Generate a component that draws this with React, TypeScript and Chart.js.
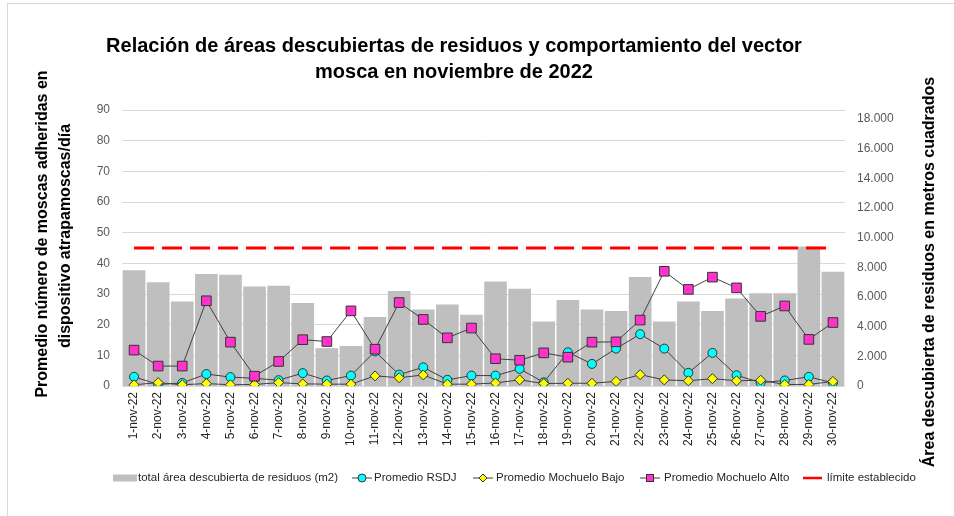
import React, { useEffect, useRef } from 'react';
import { Chart, registerables } from 'chart.js';

Chart.register(...registerables);

const days = [
  '1-nov-22', '2-nov-22', '3-nov-22', '4-nov-22', '5-nov-22', '6-nov-22', '7-nov-22', '8-nov-22', '9-nov-22', '10-nov-22',
  '11-nov-22', '12-nov-22', '13-nov-22', '14-nov-22', '15-nov-22', '16-nov-22', '17-nov-22', '18-nov-22', '19-nov-22', '20-nov-22',
  '21-nov-22', '22-nov-22', '23-nov-22', '24-nov-22', '25-nov-22', '26-nov-22', '27-nov-22', '28-nov-22', '29-nov-22', '30-nov-22',
];

const areaM2 = [
  7800, 7000, 5700, 7550, 7500, 6700, 6750, 5600, 2550, 2700,
  4650, 6400, 5150, 5500, 4800, 7050, 6550, 4350, 5800, 5150,
  5050, 7350, 4350, 5700, 5050, 5900, 6250, 6250, 9400, 7700,
];

const promedioRSDJ = [
  3.0, 0.5, 1.0, 3.9, 2.9, 2.5, 1.9, 4.2, 1.8, 3.4,
  11.3, 3.7, 6.1, 2.0, 3.4, 3.4, 5.6, 1.2, 11.0, 7.2,
  12.2, 16.9, 12.2, 4.3, 10.8, 3.5, 1.1, 1.8, 3.0, 1.0,
];

const promedioBajo = [
  0.4, 1.1, 0.4, 0.8, 0.4, 0.5, 1.1, 0.7, 0.6, 0.6,
  3.3, 2.7, 3.6, 0.6, 0.6, 1.0, 2.0, 0.8, 0.9, 0.9,
  1.5, 3.7, 2.0, 1.7, 2.4, 1.7, 1.9, 0.5, 0.5, 1.5,
];

const promedioAlto = [
  11.7, 6.5, 6.5, 27.8, 14.3, 3.2, 8.0, 15.1, 14.5, 24.5,
  12.0, 27.2, 21.7, 15.7, 18.9, 8.9, 8.4, 10.8, 9.4, 14.3,
  14.4, 21.5, 37.4, 31.5, 35.5, 32.0, 22.7, 26.1, 15.2, 20.7,
];

const limiteEstablecido = 45;

const leftTicks = [0, 10, 20, 30, 40, 50, 60, 70, 80, 90];
const rightTicks = [0, 2000, 4000, 6000, 8000, 10000, 12000, 14000, 16000, 18000];

const titleLines = [
  'Relación de áreas descubiertas de residuos y comportamiento del vector',
  'mosca en noviembre de 2022',
];
const leftTitleLines = ['Promedio número de moscas adheridas en', 'dispositivo atrapamoscas/día'];
const rightTitle = 'Área descubierta de residuos en metros cuadrados';
const legendLabels = [
  'total área descubierta de residuos (m2)',
  'Promedio RSDJ',
  'Promedio Mochuelo Bajo',
  'Promedio Mochuelo Alto',
  'límite establecido',
];

const FONT = '"Liberation Sans", Arial, sans-serif';
const BAR = '#BFBFBF';
const CYAN = '#00FFFF';
const YELLOW = '#FFFF00';
const PINK = '#FF33CC';
const LINE = '#404040';
const RED = '#FF0000';

// legend layout: marker start x, marker width, text start x
const legendMarkerX = [113, 352, 473, 640, 803];
const legendMarkerW = [24, 20, 20, 20, 19];
const legendTextX = [138, 374, 496, 664, 827];

function fmtThousands(v: number): string {
  return String(Math.round(v)).replace(/\B(?=(\d{3})+(?!\d))/g, '.');
}

const decorPlugin = {
  id: 'decor',
  afterDraw(chart: any) {
    const ctx = chart.ctx as CanvasRenderingContext2D;
    ctx.save();
    // Title
    ctx.fillStyle = '#000';
    ctx.textAlign = 'center';
    ctx.textBaseline = 'middle';
    ctx.font = `bold 20px ${FONT}`;
    ctx.fillText(titleLines[0], 454, 46);
    ctx.fillText(titleLines[1], 454, 72);

    // Left axis title
    ctx.font = `bold 16px ${FONT}`;
    ctx.save();
    ctx.translate(43, 234);
    ctx.rotate(-Math.PI / 2);
    ctx.fillText(leftTitleLines[0], 0, 0);
    ctx.restore();
    ctx.save();
    ctx.translate(66, 236);
    ctx.rotate(-Math.PI / 2);
    ctx.fillText(leftTitleLines[1], 0, 0);
    ctx.restore();

    // Right axis title
    ctx.save();
    ctx.translate(930, 272);
    ctx.rotate(-Math.PI / 2);
    ctx.fillText(rightTitle, 0, 0);
    ctx.restore();

    // Legend
    ctx.font = `11.5px ${FONT}`;
    ctx.textAlign = 'left';
    ctx.textBaseline = 'middle';
    const ly = 478;
    for (let i = 0; i < legendLabels.length; i++) {
      const x = legendMarkerX[i];
      const mw = legendMarkerW[i];
      const cx = x + mw / 2;
      if (i === 0) {
        ctx.fillStyle = BAR;
        ctx.fillRect(x, ly - 3.5, mw, 7);
      } else if (i === 4) {
        ctx.strokeStyle = RED;
        ctx.lineWidth = 2.5;
        ctx.beginPath();
        ctx.moveTo(x, ly);
        ctx.lineTo(x + mw, ly);
        ctx.stroke();
      } else {
        ctx.strokeStyle = LINE;
        ctx.lineWidth = 1;
        ctx.beginPath();
        ctx.moveTo(x, ly);
        ctx.lineTo(x + mw, ly);
        ctx.stroke();
        ctx.strokeStyle = '#333';
        if (i === 1) {
          ctx.fillStyle = CYAN;
          ctx.beginPath();
          ctx.arc(cx, ly, 4, 0, Math.PI * 2);
          ctx.fill();
          ctx.stroke();
        } else if (i === 2) {
          ctx.fillStyle = YELLOW;
          ctx.beginPath();
          ctx.moveTo(cx, ly - 4);
          ctx.lineTo(cx + 4, ly);
          ctx.lineTo(cx, ly + 4);
          ctx.lineTo(cx - 4, ly);
          ctx.closePath();
          ctx.fill();
          ctx.stroke();
        } else {
          ctx.fillStyle = PINK;
          ctx.fillRect(cx - 3.5, ly - 3.5, 7, 7);
          ctx.strokeRect(cx - 3.5, ly - 3.5, 7, 7);
        }
      }
      ctx.fillStyle = '#262626';
      ctx.fillText(legendLabels[i], legendTextX[i], ly);
    }
    ctx.restore();
  },
};

export default function App() {
  const canvasRef = useRef<HTMLCanvasElement | null>(null);

  useEffect(() => {
    if (!canvasRef.current) return;
    const chart = new Chart(canvasRef.current, {
      type: 'bar',
      data: {
        labels: days,
        datasets: [
          {
            type: 'line',
            label: legendLabels[4],
            data: days.map(() => limiteEstablecido),
            yAxisID: 'y',
            borderColor: RED,
            borderWidth: 3,
            borderDash: [20, 8],
            pointRadius: 0,
            fill: false,
            order: 1,
          },
          {
            type: 'line',
            label: legendLabels[3],
            data: promedioAlto,
            yAxisID: 'y',
            borderColor: LINE,
            borderWidth: 1,
            pointStyle: 'rect',
            pointRadius: 6.8,
            pointBackgroundColor: PINK,
            pointBorderColor: '#333',
            pointBorderWidth: 1,
            fill: false,
            order: 2,
          },
          {
            type: 'line',
            label: legendLabels[2],
            data: promedioBajo,
            yAxisID: 'y',
            borderColor: LINE,
            borderWidth: 1,
            pointStyle: 'rectRot',
            pointRadius: 5,
            pointBackgroundColor: YELLOW,
            pointBorderColor: '#333',
            pointBorderWidth: 1,
            fill: false,
            order: 3,
          },
          {
            type: 'line',
            label: legendLabels[1],
            data: promedioRSDJ,
            yAxisID: 'y',
            borderColor: LINE,
            borderWidth: 1,
            pointStyle: 'circle',
            pointRadius: 4.5,
            pointBackgroundColor: CYAN,
            pointBorderColor: '#333',
            pointBorderWidth: 1,
            fill: false,
            order: 4,
          },
          {
            type: 'bar',
            label: legendLabels[0],
            data: areaM2,
            yAxisID: 'y1',
            backgroundColor: BAR,
            barPercentage: 1,
            categoryPercentage: 0.94,
            order: 5,
          },
        ],
      },
      options: {
        animation: false,
        responsive: false,
        maintainAspectRatio: false,
        layout: { padding: { left: 92, right: 49, top: 110, bottom: 70 } },
        plugins: {
          legend: { display: false },
          title: { display: false },
          tooltip: { enabled: false },
        },
        scales: {
          x: {
            grid: { display: false, drawTicks: false },
            border: { display: false },
            ticks: {
              autoSkip: false,
              maxRotation: 90,
              minRotation: 90,
              padding: 6,
              color: '#262626',
              font: { family: FONT, size: 12 },
            },
            afterFit(scale: any) {
              scale.height = 60;
            },
          },
          y: {
            position: 'left',
            min: 0,
            max: 90,
            grid: { color: '#D9D9D9', lineWidth: 1, drawTicks: false },
            border: { display: false },
            ticks: {
              stepSize: 10,
              padding: 12,
              color: '#595959',
              font: { family: FONT, size: 12 },
            },
            afterBuildTicks(scale: any) {
              scale.ticks = leftTicks.map((v) => ({ value: v }));
            },
            afterFit(scale: any) {
              scale.width = 30;
            },
          },
          y1: {
            position: 'right',
            min: 0,
            max: 18600,
            grid: { display: false, drawTicks: false },
            border: { display: false },
            ticks: {
              padding: 12,
              color: '#595959',
              font: { family: FONT, size: 12 },
              callback: (v: any) => fmtThousands(Number(v)),
            },
            afterBuildTicks(scale: any) {
              scale.ticks = rightTicks.map((v) => ({ value: v }));
            },
            afterFit(scale: any) {
              scale.width = 60;
            },
          },
        },
      },
      plugins: [decorPlugin],
    });
    return () => chart.destroy();
  }, []);

  return (
    <div style={{ position: 'absolute', left: 0, top: 0, width: 954, height: 516, background: '#fff' }}>
      <div
        style={{
          position: 'absolute',
          left: 7,
          top: 3,
          width: 947,
          height: 513,
          borderLeft: '1px solid #D9D9D9',
          borderTop: '1px solid #D9D9D9',
          boxSizing: 'border-box',
        }}
      />
      <canvas ref={canvasRef} width={954} height={516} style={{ position: 'absolute', left: 0, top: 0 }} />
    </div>
  );
}
